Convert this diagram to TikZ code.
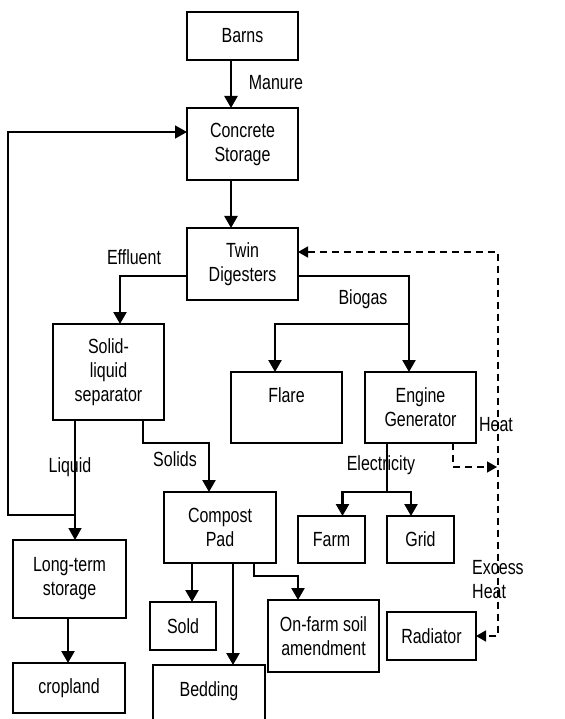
\documentclass[tikz,border=0pt]{standalone}
\usepackage{fontspec}
\setmainfont{Liberation Sans}[FakeStretch=0.78]
\usetikzlibrary{arrows.meta,positioning,calc}

\begin{document}
\begin{tikzpicture}[x=1pt,y=-1pt,
		box/.style={draw, line width=1.7pt, inner sep=0pt, outer sep=0pt, align=center,
			font=\fontsize{20.5}{24}\selectfont},
		lbl/.style={inner sep=0pt, font=\fontsize{20.5}{24}\selectfont},
		flow/.style={line width=2.4pt, -{Triangle[length=12pt,width=13pt]}},
		thinflow/.style={line width=1.5pt, -{Triangle[length=12pt,width=13pt]}},
		heatflow/.style={line width=1.5pt, dash pattern=on 7pt off 5pt}]
				\useasboundingbox (0,0) rectangle (564,719);
				% boxes
				\node[box, minimum width=111pt, minimum height=48pt] (barns) at (242.5,36) {Barns};
				\node[box, minimum width=111pt, minimum height=72pt] (concrete) at (242.5,144) {Concrete\\Storage};
				\node[box, minimum width=111pt, minimum height=72pt] (twin) at (242.5,264) {Twin\\Digesters};
				\node[box, minimum width=111pt, minimum height=96pt] (sep) at (108.5,372) {Solid-\\liquid\\separator};
				\node[box, minimum width=111pt, minimum height=71pt] (flare) at (286.5,407.5) {Flare\\ };
				\node[box, minimum width=111pt, minimum height=71pt] (engine) at (420.5,407.5) {Engine\\Generator};
				\node[box, minimum width=67pt, minimum height=47pt] (farm) at (331.5,539.5) {Farm};
				\node[box, minimum width=67pt, minimum height=47pt] (grid) at (420.5,539.5) {Grid};
				\node[box, minimum width=112pt, minimum height=71pt] (compost) at (220,527.5) {Compost\\Pad};
				\node[box, minimum width=66pt, minimum height=48pt] (sold) at (183,626) {Sold};
				\node[box, minimum width=112pt, minimum height=72pt] (bedding) at (209,701) {Bedding\\ };
				\node[box, minimum width=111pt, minimum height=72pt] (onfarm) at (323.5,636) {On-farm soil\\amendment};
				\node[box, minimum width=89pt, minimum height=48pt] (radiator) at (431.5,636) {Radiator};
				\node[box, minimum width=113pt, minimum height=78pt] (longterm) at (69.5,579) {Long-term\\storage};
				\node[box, minimum width=112pt, minimum height=50pt] (cropland) at (69,688) {cropland};
				% labels
				\node[lbl] (manure) at (276,83) {Manure};
				\node[lbl] (effluent) at (134,257) {Effluent};
				\node[lbl] (biogas) at (363,299) {Biogas};
				\node[lbl] (liquid) at (70,467) {Liquid};
				\node[lbl] (solids) at (175,459) {Solids};
				\node[lbl] (electricity) at (381,465) {Electricity};
				\node[lbl] (heat) at (496,425) {Heat};
				\node[lbl, align=left, anchor=west] (excess) at (472,580) {Excess\\Heat};
				% flows
				\draw[flow] ([xshift=-11.5pt]barns.south) -- ([xshift=-11.5pt]concrete.north);
				\draw[flow] ([xshift=-11.5pt]concrete.south) -- ([xshift=-11.5pt]twin.north);
				\draw[flow] ([yshift=-12pt]twin.west) -| ([xshift=11.5pt]sep.north);
				\draw[flow] ([yshift=-12pt]twin.east) -| ([xshift=-11.5pt]engine.north);
				\draw[flow] ([xshift=-11.5pt,yshift=48pt]engine.north) -| ([xshift=-11.5pt]flare.north);
				\draw[flow] ([xshift=-33.5pt]engine.south) -- ++(0,49) -| ([xshift=11pt]farm.north);
				\draw[flow] ([xshift=-33.5pt,yshift=-49pt]engine.south) -| ([xshift=-9.5pt]grid.north);
				\draw[thinflow] ([xshift=-33.5pt]sep.south) -- ([xshift=5.5pt]longterm.north);
				\draw[thinflow] ([xshift=5.5pt,yshift=25pt]longterm.north) -- ++(-67,0) |- ([yshift=12pt]concrete.west);
				\draw[flow] ([xshift=34.5pt]sep.south) -- ++(0,23) -| ([xshift=-11pt]compost.north);
				\draw[flow] ([xshift=-28pt]compost.south) -- ([xshift=9pt]sold.north);
				\draw[flow] ([xshift=13pt]compost.south) -- ([xshift=24pt]bedding.north);
				\draw[flow] ([xshift=34pt]compost.south) -- ++(0,13) -| ([xshift=-25.5pt]onfarm.north);
				\draw[flow] ([xshift=-1.5pt]longterm.south) -- ([xshift=-1pt]cropland.north);
				% heat loop
				\draw[heatflow, {Triangle[length=10pt,width=11pt]}-{Triangle[length=10pt,width=11pt]}]
					([yshift=12pt]twin.east) -- ++(200,0) |- (radiator.east);
				\draw[heatflow, -{Triangle[length=10pt,width=11pt]}]
					([xshift=32.5pt]engine.south) -- ++(0,24) -- ++(44,0);
\end{tikzpicture}
\end{document}
